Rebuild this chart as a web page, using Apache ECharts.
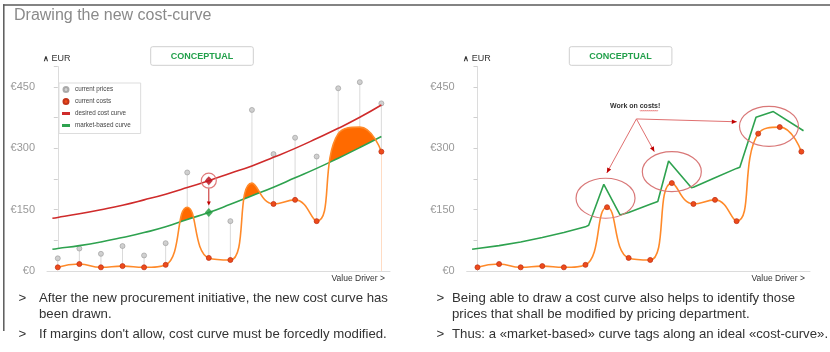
<!DOCTYPE html>
<html><head><meta charset="utf-8">
<script src="https://cdn.jsdelivr.net/npm/echarts@6/dist/echarts.min.js"></script>
<style>html,body{margin:0;padding:0;background:#fff}#c{width:830px;height:352px}</style>
</head><body><div id="c"></div>
<script>
// ---------- data ----------
const idx = [0,1,2,3,4,5,6,7,8,9,10,11,12,13,14,15];
const prices = [31,55,42,61,38,68,241,222,122,394,286,326,280,447,462,410];
const costs  = [9,17,9,12,9,15,156,32,27,215,164,174,122,336,352,292];
const peakIdx = [6,9,13,14];
const curveX  = [-0.25,0,1,2,3,4,5,6,7,8,9,10,11,12,13,14,15];
const desired = [129,131,140,150,161,174,188,204,221,239,257,278,300,324,349,376,406];
const market  = [53,55,62,71,82,94,108,126,143,163,184,205,228,251,276,302,329];
const rightGreenX = [-0.25,0,1,2,3,4,5,5.15,5.85,6.6,7,8,8.35,8.85,9.9,10,11,12,12.15,12.9,13.7,15.1];
const rightGreenY = [53,55,62,71,82,94,108,112,212,137,143,163,170,269,204,205,228,251,254,376,390,343];
const yTickValues = [0,150,300,450];
const yTickLabels = ['€0','€150','€300','€450'];
const focusIndex = 7;
// right-chart annotation anchors (data space)
const ringX = [5.93, 9.0, 13.5];
const ringY = [178, 243, 354];
const arrowFrom = [7.36, 372];
const arrowToX = [5.99, 8.19, 12.01];
const arrowToY = [240, 292, 365];

const legendNames = ['current prices','current costs','desired cost curve','market-based curve'];
const C = {orange:'#ff8a2a', fill:'#ff6a00', dot:'#ee4b1a', dotB:'#c2351a', red:'#cf2b2b', green:'#2ea24f', gray:'#c6c6c6'};
const FONT = 'Arial, "Liberation Sans", sans-serif';

const pts = (xs, ys) => xs.map((x,i) => [x, ys[i]]);
const desiredAt = v => desired[curveX.indexOf(v)];
const marketAt = v => market[curveX.indexOf(v)];

function yAxisCfg(g){
  return {gridIndex:g, type:'value', min:0, max:500, interval:75,
    axisLine:{show:true, lineStyle:{color:'#dcdcdc', width:1}},
    axisTick:{show:true, length:4, lineStyle:{color:'#cfcfcf'}},
    splitLine:{show:false},
    axisLabel:{color:'#999', fontSize:11, fontFamily:FONT, margin:12,
      formatter: v => { const k = yTickValues.indexOf(v); return k >= 0 ? yTickLabels[k] : ''; }}};
}
function xAxisCfg(g){
  return {gridIndex:g, type:'value', min:-0.5, max:15.4, z:10,
    axisLine:{show:true, onZero:false, lineStyle:{color:'#dcdcdc', width:1}},
    axisTick:{show:false}, axisLabel:{show:false}, splitLine:{show:false}};
}

const costsLeft = idx.map(i => peakIdx.indexOf(i) >= 0 ? {value:[i,costs[i]], symbol:'none'} : {value:[i,costs[i]]});

const option = {
  animation:false,
  backgroundColor:'#fff',
  grid:[
    {left:47, right:440, top:66.6, bottom:81, outerBoundsMode:'none', containLabel:false},
    {left:466.7, right:20, top:66.6, bottom:81, outerBoundsMode:'none', containLabel:false}
  ],
  xAxis:[xAxisCfg(0), xAxisCfg(1)],
  yAxis:[yAxisCfg(0), yAxisCfg(1)],
  legend:{
    data:[
      {name:legendNames[0], icon:'circle'},
      {name:legendNames[1], icon:'circle'},
      {name:legendNames[2], icon:'path://M0,0h8v3h-8z'},
      {name:legendNames[3], icon:'path://M0,0h8v3h-8z'}
    ],
    orient:'vertical', left:59, top:83, selectedMode:false,
    itemWidth:8, itemHeight:5, itemGap:4,
    padding:[2.5,10,4,3], borderColor:'#dddddd', borderWidth:1, backgroundColor:'#fff',
    textStyle:{fontSize:6.3, color:'#444', fontFamily:FONT, lineHeight:8}
  },
  series:[
    {name:'costFill', type:'line', xAxisIndex:0, yAxisIndex:0, data:pts(idx,costs), smooth:0.5,
      symbol:'none', lineStyle:{width:0}, areaStyle:{color:C.fill, opacity:1}, z:1, silent:true},
    {name:'marketMask', type:'line', xAxisIndex:0, yAxisIndex:0, data:pts(curveX,market), smooth:0.5,
      symbol:'none', lineStyle:{width:0}, areaStyle:{color:'#fff', opacity:1}, z:2, silent:true},
    {name:'priceLinks', type:'custom', xAxisIndex:0, yAxisIndex:0, silent:true, z:3,
      data: idx.map(i => [i, costs[i], prices[i]]), encode:{x:0, y:[1,2]},
      renderItem:(params, api) => {
        const a = api.coord([api.value(0), api.value(1)]);
        const b = api.coord([api.value(0), api.value(2)]);
        return {type:'line', shape:{x1:a[0], y1:a[1], x2:b[0], y2:b[1]}, style:{stroke:'#dadada', lineWidth:1}};
      }},
    {name:legendNames[0], type:'scatter', xAxisIndex:0, yAxisIndex:0, data:pts(idx,prices), symbolSize:5,
      itemStyle:{color:C.gray, borderColor:'#9a9a9a', borderWidth:0.8}, z:4},
    {name:legendNames[2], type:'line', xAxisIndex:0, yAxisIndex:0, data:pts(curveX,desired), smooth:0.5,
      symbol:'none', lineStyle:{color:C.red, width:1.6}, itemStyle:{color:C.red}, z:5},
    {name:legendNames[3], type:'line', xAxisIndex:0, yAxisIndex:0, data:pts(curveX,market), smooth:0.5,
      symbol:'none', lineStyle:{color:C.green, width:1.6}, itemStyle:{color:C.green}, z:5},
    {name:legendNames[1], type:'line', xAxisIndex:0, yAxisIndex:0, data:costsLeft, smooth:0.5,
      symbol:'circle', symbolSize:5, showAllSymbol:true,
      lineStyle:{color:C.orange, width:1.6}, itemStyle:{color:C.dot, borderColor:C.dotB, borderWidth:0.8}, z:6},
    {name:'focusDesired', type:'scatter', xAxisIndex:0, yAxisIndex:0,
      data:[[focusIndex, desiredAt(focusIndex)]], symbol:'diamond', symbolSize:[8,9],
      itemStyle:{color:'#c3121f'}, z:8},
    {name:'focusMarket', type:'scatter', xAxisIndex:0, yAxisIndex:0,
      data:[[focusIndex, marketAt(focusIndex)]], symbol:'diamond', symbolSize:[8,9],
      itemStyle:{color:'#1f9a3c'}, z:8},
    // right chart
    {name:'market-based curve ', type:'line', xAxisIndex:1, yAxisIndex:1, data:pts(rightGreenX,rightGreenY),
      smooth:false, symbol:'none', lineStyle:{color:C.green, width:1.6}, z:5},
    {name:'current costs ', type:'line', xAxisIndex:1, yAxisIndex:1, data:pts(idx,costs), smooth:0.5,
      symbol:'circle', symbolSize:5, showAllSymbol:true,
      lineStyle:{color:C.orange, width:1.6}, itemStyle:{color:C.dot, borderColor:C.dotB, borderWidth:0.8}, z:6}
  ]
};

const chart = echarts.init(document.getElementById('c'));
chart.setOption(option);

const P0 = v => chart.convertToPixel({xAxisIndex:0, yAxisIndex:0}, v);
const P1 = v => chart.convertToPixel({xAxisIndex:1, yAxisIndex:1}, v);

function txt(x, y, text, font, fill, align){
  return {type:'text', x:x, y:y, silent:true, z:20,
    style:{text:text, font:font, fill:fill, align:align||'left', textAlign:align||'left',
           verticalAlign:'middle', textVerticalAlign:'middle'}};
}
function head(from, to, len, wid, color){
  const dx = to[0]-from[0], dy = to[1]-from[1], L = Math.hypot(dx,dy);
  const ux = dx/L, uy = dy/L, bx = to[0]-ux*len, by = to[1]-uy*len;
  return {type:'polygon', silent:true, z:21, shape:{points:[[to[0],to[1]],[bx-uy*wid/2, by+ux*wid/2],[bx+uy*wid/2, by-ux*wid/2]]},
    style:{fill:color}};
}
function seg(a, b, color, w){
  return {type:'line', silent:true, z:20, shape:{x1:a[0],y1:a[1],x2:b[0],y2:b[1]}, style:{stroke:color, lineWidth:w||1}};
}

const G = [];
// frame
G.push({type:'line', silent:true, shape:{x1:3, y1:5, x2:830, y2:5}, style:{stroke:'#5a5a5a', lineWidth:1.5}});
G.push({type:'line', silent:true, shape:{x1:3.8, y1:4.3, x2:3.8, y2:331}, style:{stroke:'#5a5a5a', lineWidth:1.5}});
// title
G.push(txt(14, 16, 'Drawing the new cost-curve', '16px ' + FONT, '#8a8a8a'));
// conceptual boxes & EUR & value driver
[[150.7, 43, 385], [569.3, 463.3, 805]].forEach(([bx, ex, vx]) => {
  G.push({type:'rect', silent:true, z:15, shape:{x:bx, y:46.7, width:102.6, height:18.6, r:2},
    style:{fill:'#fff', stroke:'#cfcfcf', lineWidth:1}});
  G.push(txt(bx + 51.3, 56.2, 'CONCEPTUAL', 'bold 9px ' + FONT, '#22a04b', 'center'));
  G.push(txt(ex, 58.5, '∧', 'bold 8px ' + FONT, '#333'));
  G.push(txt(ex + 8.5, 58.5, 'EUR', '9px ' + FONT, '#333'));
  G.push(txt(vx, 279, 'Value Driver >', '8.5px ' + FONT, '#333', 'right'));
});
// bullet texts
const TF = '13.2px ' + FONT, TC = '#333';
[[18.5, 39, 298, '>', 'After the new procurement initiative, the new cost curve has'],
 [null, 39, 314, '', 'been drawn.'],
 [18.5, 39, 334, '>', "If margins don't allow, cost curve must be forcedly modified."],
 [436.5, 452, 298, '>', 'Being able to draw a cost curve also helps to identify those'],
 [null, 452, 314, '', 'prices that shall be modified by pricing department.'],
 [436.5, 452, 334, '>', 'Thus: a «market-based» curve tags along an ideal «cost-curve».']
].forEach(([gx, tx, ty, g, t]) => {
  if (gx !== null) G.push(txt(gx, ty, g, TF, TC));
  G.push(txt(tx, ty, t, TF, TC));
});

// left annotation: ring around desired point and arrow down to market point
const dP = P0([focusIndex, desiredAt(focusIndex)]);
const mP = P0([focusIndex, marketAt(focusIndex)]);
G.push({type:'circle', silent:true, z:19, shape:{cx:dP[0], cy:dP[1], r:7.5}, style:{fill:'none', stroke:'#e07a7a', lineWidth:1.2}});
G.push(seg([dP[0], dP[1]+8], [mP[0], mP[1]-9], '#d03030', 1));
G.push(head([dP[0], dP[1]+8], [mP[0], mP[1]-7], 4, 4, '#c00000'));

// right annotations
ringX.forEach((x, i) => {
  const c = P1([x, ringY[i]]);
  G.push({type:'ellipse', silent:true, z:19, shape:{cx:c[0], cy:c[1], rx:29.5, ry:20}, style:{fill:'none', stroke:'#d97878', lineWidth:1.2}});
});
const aF = P1(arrowFrom);
arrowToX.forEach((x, i) => {
  const t = P1([x, arrowToY[i]]);
  G.push(seg(aF, t, '#e07070', 1));
  G.push(head(aF, t, 5, 4.5, '#c00000'));
});
G.push(txt(aF[0] - 26.5, aF[1] - 13, 'Work on costs!', 'bold 7px ' + FONT, '#333'));
// wavy underline under "costs"
const wx0 = aF[0] + 3.5, wy = aF[1] - 8.5, wave = [];
for (let k = 0; k <= 18; k++) wave.push([wx0 + k, wy + (k % 2 ? 0.8 : -0.2)]);
G.push({type:'polyline', silent:true, z:20, shape:{points:wave}, style:{stroke:'#e04040', lineWidth:0.7, fill:'none'}});

chart.setOption({graphic:G});
</script></body></html>
